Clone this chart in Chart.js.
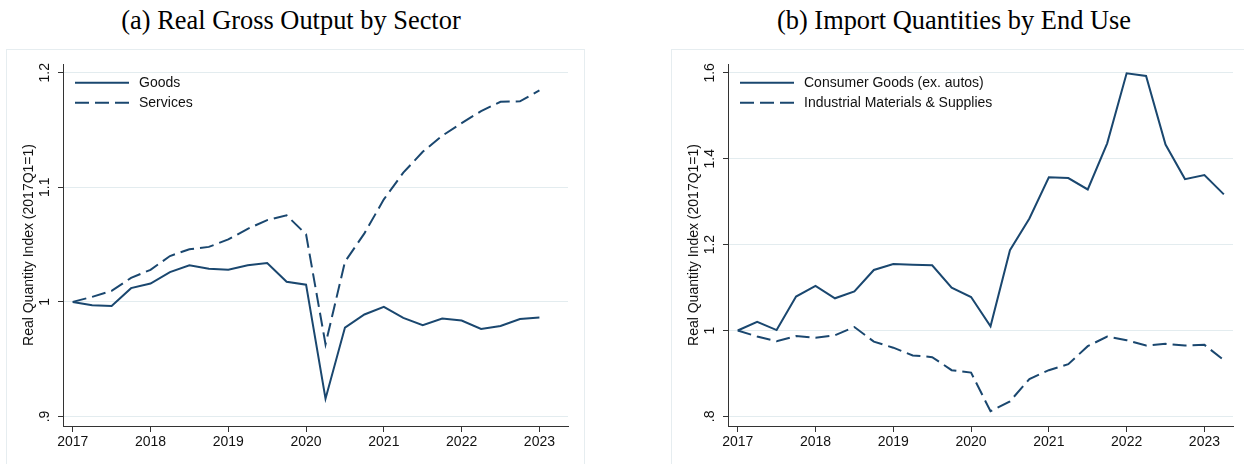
<!DOCTYPE html>
<html>
<head>
<meta charset="utf-8">
<script src="https://cdn.jsdelivr.net/npm/chart.js@4.4.0/dist/chart.umd.min.js"></script>
<style>
  body { margin: 0; background: #fff; width: 1244px; height: 464px; overflow: hidden; position: relative; }
  .title { position: absolute; top: 5px; font-family: "Liberation Serif", "Times New Roman", serif; font-size: 26.4px; color: #000; white-space: nowrap; transform: translateX(-50%); }
  .panel { position: absolute; top: 49px; width: 579px; height: 420px; border: 1px solid #e6edf0; box-sizing: border-box; }
  .panel canvas { position: absolute; left: 0; top: 0; }
</style>
</head>
<body>
<div class="title" style="left:291px">(a) Real Gross Output by Sector</div>
<div class="title" style="left:954px">(b) Import Quantities by End Use</div>
<div class="panel" style="left:6px"><canvas id="chartA" width="577" height="418"></canvas></div>
<div class="panel" style="left:671px"><canvas id="chartB" width="577" height="418"></canvas></div>

<script>
/* Data */
const years = ['2017', '2018', '2019', '2020', '2021', '2022', '2023'];

const quarters = [
  '2017Q1', '2017Q2', '2017Q3', '2017Q4',
  '2018Q1', '2018Q2', '2018Q3', '2018Q4',
  '2019Q1', '2019Q2', '2019Q3', '2019Q4',
  '2020Q1', '2020Q2', '2020Q3', '2020Q4',
  '2021Q1', '2021Q2', '2021Q3', '2021Q4',
  '2022Q1', '2022Q2', '2022Q3', '2022Q4',
  '2023Q1', '2023Q2'
];

const goods = [
  1.000, 0.997, 0.9965, 1.012, 1.016, 1.026, 1.032, 1.029, 1.028, 1.032, 1.034, 1.0175, 1.015,
  0.9155, 0.9776, 0.989, 0.9956, 0.986, 0.9796, 0.9854, 0.9837, 0.9764, 0.979, 0.985, 0.9863
];
const services = [
  1.000, 1.0044, 1.0096, 1.021, 1.028, 1.040, 1.046, 1.048, 1.0545, 1.0638, 1.0714, 1.0755, 1.059,
  0.963, 1.035, 1.0598, 1.0895, 1.1128, 1.131, 1.145, 1.156, 1.1665, 1.1746, 1.175, 1.1845
];

const consumerGoods = [
  1.000, 1.020, 1.001, 1.079, 1.104, 1.075, 1.091, 1.141, 1.155, 1.153, 1.152, 1.100, 1.078,
  1.010, 1.187, 1.261, 1.357, 1.355, 1.3285, 1.436, 1.599, 1.593, 1.433, 1.3526, 1.362, 1.317
];
const industrialSupplies = [
  1.000, 0.986, 0.975, 0.987, 0.983, 0.989, 1.008, 0.974, 0.960, 0.942, 0.938, 0.9076, 0.902,
  0.812, 0.835, 0.887, 0.9076, 0.9216, 0.9635, 0.986, 0.9775, 0.965, 0.969, 0.965, 0.9666, 0.931
];

const yTicksA = [0.9, 1, 1.1, 1.2];
const yLabelsA = ['.9', '1', '1.1', '1.2'];
const yTicksB = [0.8, 1, 1.2, 1.4, 1.6];
const yLabelsB = ['.8', '1', '1.2', '1.4', '1.6'];

const NAVY = '#1a476f';
const AXIS = '#333';
const GRID = '#e3ecef';
const FONT = '"Liberation Sans", Arial, sans-serif';

Chart.defaults.font.family = FONT;
Chart.defaults.font.size = 14;
Chart.defaults.color = '#111';

// '2019Q3' -> quarters since 2017Q1
function quarterPos(label) {
  return (parseInt(label.slice(0, 4)) - 2017) * 4 + parseInt(label.slice(5)) - 1;
}

function toPoints(values) {
  return values.map((v, i) => ({ x: quarterPos(quarters[i]), y: v }));
}

/* y tick labels (rotated), y title and legend, Stata style */
const stataPlugin = {
  id: 'stata',
  afterDraw(chart, args, opts) {
    const { ctx, chartArea } = chart;
    const y = chart.scales.y;
    ctx.save();
    ctx.fillStyle = '#111';
    ctx.font = '14px ' + FONT;
    ctx.textAlign = 'center';
    ctx.textBaseline = 'middle';

    y.ticks.forEach((t, i) => {
      ctx.save();
      ctx.translate(chartArea.left - 17.5, y.getPixelForValue(t.value));
      ctx.rotate(-Math.PI / 2);
      ctx.fillText(opts.tickLabels[i], 0, 0);
      ctx.restore();
    });

    ctx.save();
    ctx.translate(chartArea.left - 33.5, (chartArea.top + chartArea.bottom) / 2);
    ctx.rotate(-Math.PI / 2);
    ctx.fillText(opts.yTitle, 0, 0);
    ctx.restore();

    chart.data.datasets.forEach((ds, i) => {
      const ly = chartArea.top + 18.7 + i * 20;
      ctx.strokeStyle = ds.borderColor;
      ctx.lineWidth = ds.borderWidth;
      ctx.setLineDash(ds.borderDash || []);
      ctx.beginPath();
      ctx.moveTo(chartArea.left + 12, ly);
      ctx.lineTo(chartArea.left + 66, ly);
      ctx.stroke();
      ctx.setLineDash([]);
      ctx.textAlign = 'left';
      ctx.fillText(ds.label, chartArea.left + 76, ly);
    });
    ctx.restore();
  }
};

function makeChart(id, series, yMin, yMax, yTicks, yLabels) {
  const ctx = document.getElementById(id).getContext('2d');
  return new Chart(ctx, {
    type: 'line',
    data: {
      datasets: series.map(s => ({
        label: s.label,
        data: toPoints(s.data),
        borderColor: NAVY,
        borderWidth: 2,
        borderDash: s.dash,
        pointRadius: 0,
        tension: 0,
        fill: false
      }))
    },
    options: {
      responsive: false,
      animation: false,
      layout: { padding: { left: 6, top: 14, right: 16, bottom: 4 } },
      plugins: {
        legend: { display: false },
        tooltip: { enabled: false },
        stata: { tickLabels: yLabels, yTitle: 'Real Quantity Index (2017Q1=1)' }
      },
      scales: {
        x: {
          type: 'linear',
          min: -0.5,
          max: 25.47,
          afterBuildTicks: scale => { scale.ticks = years.map((y, i) => ({ value: i * 4 })); },
          afterFit: scale => { scale.height = 38; },
          ticks: { callback: v => years[v / 4], padding: 2, maxRotation: 0, autoSkip: false },
          grid: { drawOnChartArea: false, drawTicks: true, tickLength: 6, color: AXIS, tickColor: AXIS },
          border: { display: true, color: AXIS, width: 1 }
        },
        y: {
          type: 'linear',
          min: yMin,
          max: yMax,
          afterBuildTicks: scale => { scale.ticks = yTicks.map(v => ({ value: v })); },
          afterFit: scale => { scale.width = 50; },
          ticks: { display: false },
          grid: { color: GRID, lineWidth: 1, drawTicks: true, tickLength: 5, tickColor: AXIS },
          border: { display: true, color: AXIS, width: 1 }
        }
      }
    },
    plugins: [stataPlugin]
  });
}

const app = () => {
  makeChart('chartA', [
    { label: 'Goods', data: goods, dash: [] },
    { label: 'Services', data: services, dash: [14, 6] }
  ], 0.8917, 1.2076, yTicksA, yLabelsA);

  makeChart('chartB', [
    { label: 'Consumer Goods (ex. autos)', data: consumerGoods, dash: [] },
    { label: 'Industrial Materials & Supplies', data: industrialSupplies, dash: [14, 6] }
  ], 0.7776, 1.6207, yTicksB, yLabelsB);
};

app();
</script>
</body>
</html>
